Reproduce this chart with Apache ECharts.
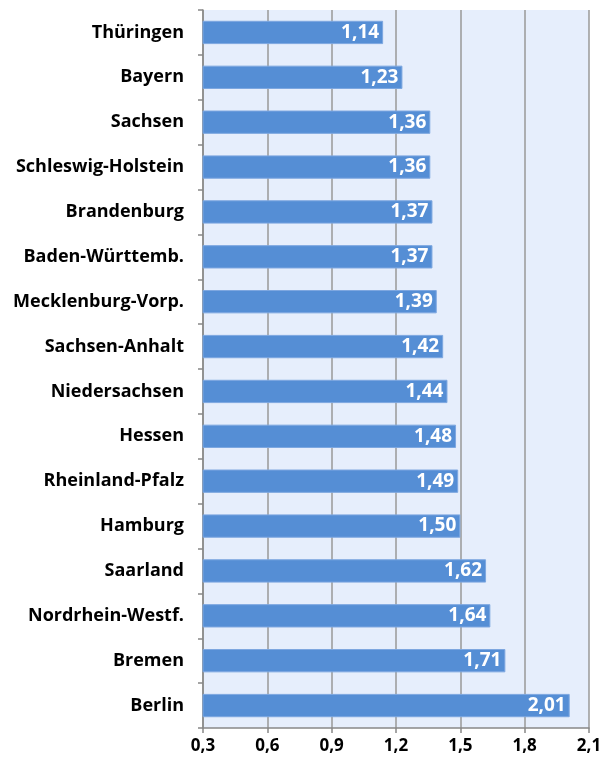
<!DOCTYPE html>
<html>
<head>
<meta charset="utf-8">
<script src="https://cdn.jsdelivr.net/npm/echarts@6/dist/echarts.min.js"></script>
<style>
  html, body { margin: 0; padding: 0; background: #fff; }
  #chart { width: 599px; height: 763px; }
</style>
</head>
<body>
<div id="chart"></div>
<script>
// Bundesländer, von oben nach unten
const laender = ['Thüringen', 'Bayern', 'Sachsen', 'Schleswig-Holstein', 'Brandenburg',
  'Baden-Württemb.', 'Mecklenburg-Vorp.', 'Sachsen-Anhalt', 'Niedersachsen', 'Hessen',
  'Rheinland-Pfalz', 'Hamburg', 'Saarland', 'Nordrhein-Westf.', 'Bremen', 'Berlin']
const werte = [1.14, 1.23, 1.36, 1.36, 1.37, 1.37, 1.39, 1.42, 1.44, 1.48, 1.49, 1.50, 1.62, 1.64, 1.71, 2.01]

const axisMin = 0.3
const axisMax = 2.1
const axisStep = 0.3

const fontFam = '"Open Sans", Lato, sans-serif'
const komma = v => v.toFixed(1).replace('.', ',')

const chart = echarts.init(document.getElementById('chart'))

chart.setOption({
  animation: false,
  grid: {
    left: 203,
    right: 10,
    top: 10,
    bottom: 35,
    outerBoundsMode: 'none',
    show: true,
    backgroundColor: '#E6EEFC',
    borderWidth: 0
  },
  xAxis: {
    type: 'value',
    min: axisMin,
    max: axisMax,
    interval: axisStep,
    axisLine: { show: true, onZero: false, lineStyle: { color: '#888', width: 1.5 } },
    axisTick: { show: true, length: 5, lineStyle: { color: '#888', width: 1.5 } },
    splitLine: { show: true, lineStyle: { color: '#999', width: 1.5 } },
    axisLabel: {
      color: '#000',
      fontWeight: 'bold',
      fontSize: 17,
      fontFamily: fontFam,
      margin: 10,
      formatter: v => komma(v)
    }
  },
  yAxis: {
    type: 'category',
    data: laender,
    inverse: true,
    axisLine: { show: true, lineStyle: { color: '#888', width: 1.5 } },
    axisTick: { show: true, length: 5, lineStyle: { color: '#888', width: 1.5 } },
    axisLabel: {
      color: '#000',
      fontWeight: 'bold',
      fontSize: 18,
      fontFamily: fontFam,
      margin: 19
    }
  },
  series: [{
    type: 'bar',
    data: werte,
    barWidth: '52%',
    itemStyle: { color: '#558ED5', borderColor: '#7DA7E0', borderWidth: 1 },
    label: {
      show: true,
      position: 'insideRight',
      color: '#fff',
      fontWeight: 'bold',
      fontSize: 19,
      fontFamily: fontFam,
      distance: 4,
      formatter: p => p.value.toFixed(2).replace('.', ',')
    }
  }]
})
</script>
</body>
</html>
